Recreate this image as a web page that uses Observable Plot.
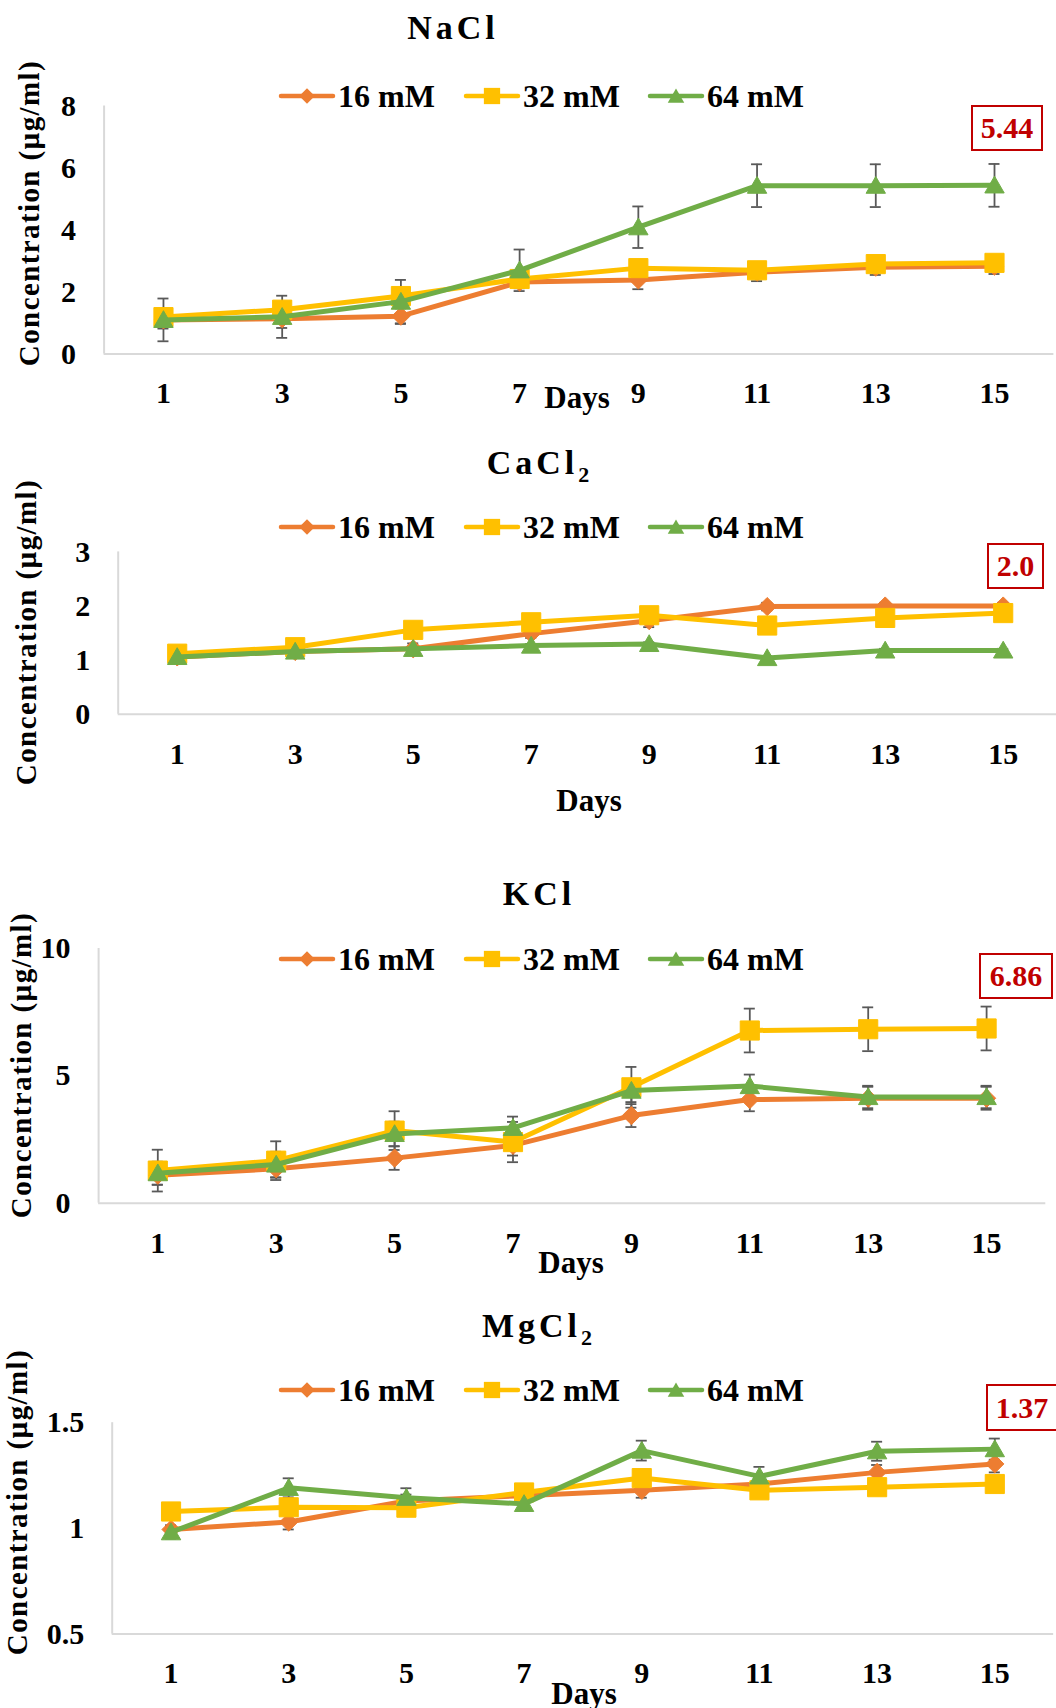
<!DOCTYPE html>
<html><head><meta charset="utf-8">
<script src="https://cdn.jsdelivr.net/npm/d3@7"></script>
<script src="https://cdn.jsdelivr.net/npm/@observablehq/plot@0.6"></script>
<style>
html,body{margin:0;padding:0;background:#fff;}
body{width:1056px;height:1708px;overflow:hidden;position:relative;font-family:"Liberation Serif","Times New Roman",serif;font-weight:bold;color:#000;}
.abs{position:absolute;white-space:nowrap;line-height:1;}
.title{font-size:34px;letter-spacing:4px;transform:translateX(-50%);}
.leg{font-size:32px;}
.ylab{font-size:29px;letter-spacing:1.4px;transform:translate(-50%,-50%) rotate(-90deg);}
.days{font-size:31px;transform:translateX(-50%);}
.box{box-sizing:border-box;border:2px solid #C00000;color:#C00000;font-size:30px;display:flex;align-items:center;justify-content:center;background:#fff;}
.panel{position:absolute;left:0;}
</style></head><body><script>
// ---------- data ----------
const days = [1, 3, 5, 7, 9, 11, 13, 15];
const seriesNames = ["16 mM", "32 mM", "64 mM"];
const seriesColors = ["#ED7D31", "#FFC000", "#70AD47"];

// NaCl
const naclMean16 = [1.10, 1.14, 1.22, 2.32, 2.39, 2.64, 2.80, 2.83];
const naclErr16  = [0.28, 0.30, 0.25, 0.20, 0.30, 0.29, 0.25, 0.25];
const naclMean32 = [1.19, 1.43, 1.87, 2.42, 2.77, 2.70, 2.90, 2.94];
const naclErr32  = [0.10, 0.10, 0.10, 0.10, 0.10, 0.10, 0.10, 0.10];
const naclMean64 = [1.10, 1.20, 1.69, 2.70, 4.09, 5.43, 5.43, 5.44];
const naclErr64  = [0.69, 0.68, 0.70, 0.67, 0.67, 0.69, 0.69, 0.69];
const naclTicks = [0, 2, 4, 6, 8];

// CaCl2
const caclMean16 = [1.06, 1.16, 1.21, 1.49, 1.73, 1.99, 2.00, 2.00];
const caclErr16  = [0.03, 0.03, 0.10, 0.08, 0.12, 0.07, 0.06, 0.06];
const caclMean32 = [1.12, 1.24, 1.56, 1.70, 1.83, 1.64, 1.78, 1.87];
const caclErr32  = [0.03, 0.03, 0.03, 0.03, 0.03, 0.03, 0.03, 0.03];
const caclMean64 = [1.06, 1.16, 1.21, 1.27, 1.30, 1.04, 1.18, 1.18];
const caclErr64  = [0.03, 0.03, 0.03, 0.03, 0.03, 0.03, 0.03, 0.03];
const caclTicks = [0, 1, 2, 3];

// KCl
const kclMean16 = [1.10, 1.35, 1.77, 2.27, 3.44, 4.07, 4.12, 4.12];
const kclErr16  = [0.38, 0.35, 0.46, 0.40, 0.45, 0.46, 0.45, 0.45];
const kclMean32 = [1.28, 1.67, 2.85, 2.40, 4.55, 6.78, 6.83, 6.86];
const kclErr32  = [0.82, 0.76, 0.76, 0.79, 0.80, 0.86, 0.86, 0.86];
const kclMean64 = [1.18, 1.52, 2.72, 2.96, 4.42, 4.60, 4.17, 4.17];
const kclErr64  = [0.45, 0.50, 0.48, 0.44, 0.45, 0.45, 0.44, 0.44];
const kclTicks = [0, 5, 10];

// MgCl2
const mgclMean16 = [0.995, 1.03, 1.13, 1.155, 1.18, 1.21, 1.265, 1.305];
const mgclErr16  = [0.020, 0.035, 0.030, 0.030, 0.035, 0.030, 0.035, 0.040];
const mgclMean32 = [1.08, 1.10, 1.098, 1.17, 1.238, 1.18, 1.195, 1.21];
const mgclErr32  = [0.010, 0.010, 0.010, 0.010, 0.010, 0.010, 0.010, 0.010];
const mgclMean64 = [0.982, 1.192, 1.145, 1.116, 1.368, 1.246, 1.365, 1.375];
const mgclErr64  = [0.030, 0.045, 0.045, 0.030, 0.047, 0.045, 0.045, 0.050];
const mgclTicks = [0.5, 1, 1.5];

// ---------- layout ----------
const symbols = ["diamond2", "square", "triangle"];
const symbolR = [8.2, 10.8, 7.2];
const d3Symbols = [d3.symbolDiamond2, d3.symbolSquare, d3.symbolTriangle];

const panels = [
  {title: "NaCl", sub: "", means: [naclMean16, naclMean32, naclMean64], errs: [naclErr16, naclErr32, naclErr64],
   yDomain: [0, 8], yTicks: naclTicks, top: 0, height: 420, x0: 103.6, pxDay: 59.36, frameTop: 105.5, baseline: 353.5,
   titleX: 453, titleBase: 39, legendY: 95.7, ylab: [28.5, 213], daysX: 577, daysBase: 408,
   box: {l: 971, t: 105, w: 72, h: 46, text: "5.44"}},
  {title: "CaCl", sub: "2", means: [caclMean16, caclMean32, caclMean64], errs: [caclErr16, caclErr32, caclErr64],
   yDomain: [0, 3], yTicks: caclTicks, top: 420, height: 420, x0: 117.7, pxDay: 59.0, frameTop: 551.4, baseline: 713.8,
   titleX: 538, titleBase: 474, legendY: 526.5, ylab: [25.6, 632], daysX: 589, daysBase: 811,
   box: {l: 987, t: 543, w: 57, h: 46, text: "2.0"}},
  {title: "KCl", sub: "", means: [kclMean16, kclMean32, kclMean64], errs: [kclErr16, kclErr32, kclErr64],
   yDomain: [0, 10], yTicks: kclTicks, top: 840, height: 430, x0: 98.1, pxDay: 59.2, frameTop: 948, baseline: 1202.7,
   titleX: 539, titleBase: 905, legendY: 958.6, ylab: [20.5, 1065], daysX: 571, daysBase: 1273,
   box: {l: 979, t: 953, w: 74, h: 46, text: "6.86"}},
  {title: "MgCl", sub: "2", means: [mgclMean16, mgclMean32, mgclMean64], errs: [mgclErr16, mgclErr32, mgclErr64],
   yDomain: [0.5, 1.5], yTicks: mgclTicks, top: 1270, height: 438, x0: 111.7, pxDay: 58.84, frameTop: 1422.2, baseline: 1633.6,
   titleX: 537, titleBase: 1337, legendY: 1390, ylab: [17, 1502], daysX: 584, daysBase: 1704,
   box: {l: 986, t: 1384, w: 72, h: 47, text: "1.37"}}
];

const legendX = [280, 465, 649];
const W = 1056;

function addDiv(cls, html, left, top) {
  const d = document.createElement("div");
  d.className = "abs " + cls;
  d.innerHTML = html;
  d.style.left = left + "px";
  d.style.top = top + "px";
  document.body.appendChild(d);
  return d;
}

for (const p of panels) {
  const rows = [];
  p.means.forEach((arr, i) => arr.forEach((v, j) => rows.push({s: i, day: days[j], v, e: p.errs[i][j]})));
  const cap = 5.5 / p.pxDay;
  const x16 = p.x0 + 16 * p.pxDay;
  const marks = [
    Plot.ruleY([p.yDomain[0]], {stroke: "#D9D9D9", strokeWidth: 2}),
    Plot.ruleX([0], {stroke: "#D9D9D9", strokeWidth: 2}),
    Plot.ruleX(rows, {x: "day", y1: d => d.v - d.e, y2: d => d.v + d.e, stroke: "#595959", strokeWidth: 1.8}),
    Plot.ruleY(rows, {y: d => d.v + d.e, x1: d => d.day - cap, x2: d => d.day + cap, stroke: "#595959", strokeWidth: 1.8}),
    Plot.ruleY(rows, {y: d => d.v - d.e, x1: d => d.day - cap, x2: d => d.day + cap, stroke: "#595959", strokeWidth: 1.8})
  ];
  for (let i = 0; i < 3; i++) {
    const sr = rows.filter(d => d.s === i);
    marks.push(Plot.line(sr, {x: "day", y: "v", stroke: seriesColors[i], strokeWidth: 5, strokeLinejoin: "round", strokeLinecap: "round"}));
    marks.push(Plot.dot(sr, {x: "day", y: "v", symbol: symbols[i], r: symbolR[i], fill: seriesColors[i], stroke: seriesColors[i], strokeWidth: 1, dy: i === 2 ? 2 : 0}));
  }
  marks.push(Plot.axisX({ticks: days, tickSize: 0, tickPadding: 28, tickFormat: d => String(d), label: null, fontSize: 30, fontWeight: "bold", fill: "#000"}));
  marks.push(Plot.axisY({ticks: p.yTicks, tickSize: 0, tickPadding: 28, tickFormat: d => String(d), label: null, fontSize: 30, fontWeight: "bold", fill: "#000"}));

  const svg = Plot.plot({
    width: W,
    height: p.height,
    marginLeft: p.x0,
    marginRight: W - x16,
    marginTop: p.frameTop - p.top,
    marginBottom: p.top + p.height - p.baseline,
    x: {domain: [0, 16]},
    y: {domain: p.yDomain},
    style: {background: "transparent", overflow: "visible", fontFamily: "'Liberation Serif', 'Times New Roman', serif", fontWeight: "bold", fontSize: "30px", color: "#000", maxWidth: "none"},
    marks
  });
  const holder = document.createElement("div");
  holder.className = "panel";
  holder.style.top = p.top + "px";
  holder.appendChild(svg);
  document.body.appendChild(holder);

  // title
  const tHtml = p.title + (p.sub ? `<span style="font-size:22px;position:relative;top:8px;letter-spacing:0">${p.sub}</span>` : "");
  addDiv("title", tHtml, p.titleX, p.titleBase - 0.8375 * 34);

  // legend
  seriesNames.forEach((name, i) => {
    const size = Math.PI * symbolR[i] * symbolR[i];
    const path = d3.symbol(d3Symbols[i], size)();
    const ly = p.legendY;
    addDiv("leg", `<svg width="54" height="24" style="position:absolute;left:0;top:${-12}px;overflow:visible">
      <line x1="1" x2="53" y1="12" y2="12" stroke="${seriesColors[i]}" stroke-width="4.5" stroke-linecap="round"/>
      <path d="${path}" transform="translate(27,${12 + (i === 2 ? 2 : 0)}) scale(0.85)" fill="${seriesColors[i]}"/></svg>`, legendX[i], ly);
    addDiv("leg", name, legendX[i] + 58, ly + 0.338 * 32 - 0.8375 * 32);
  });

  // y label
  addDiv("ylab", "Concentration (µg/ml)", p.ylab[0], p.ylab[1]);
  // x label
  addDiv("days", "Days", p.daysX, p.daysBase - 0.8375 * 31);
  // box annotation
  const b = addDiv("box", p.box.text, p.box.l, p.box.t);
  b.style.width = p.box.w + "px";
  b.style.height = p.box.h + "px";
}
</script></body></html>
